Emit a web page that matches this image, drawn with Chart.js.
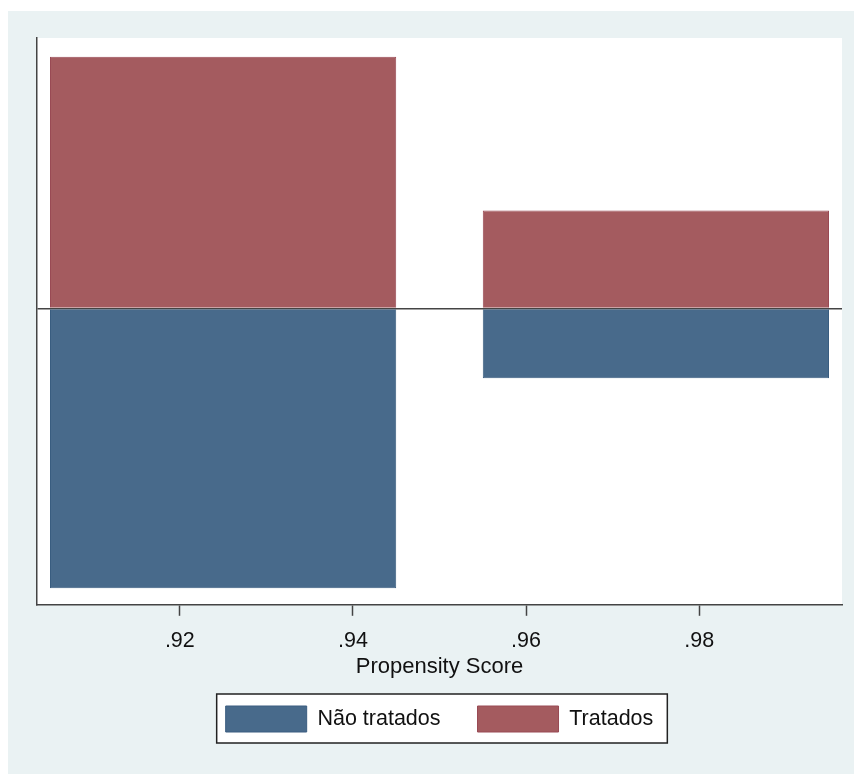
<!DOCTYPE html>
<html>

<head>
    <meta charset="utf-8">
    <title>Propensity Score</title>
    <script src="https://cdn.jsdelivr.net/npm/chart.js@4.4.1/dist/chart.umd.min.js"></script>
    <style>
    html,
    body {
        margin: 0;
        padding: 0;
        background: #fff;
    }

    #wrap {
        position: absolute;
        left: 8px;
        top: 11px;
        width: 846px;
        height: 763px;
        background: #eaf2f3;
    }
    </style>
</head>

<body>
    <div id="wrap"><canvas id="psChart"></canvas></div>
    <script>
    // bin centres (propensity score) and share of each group per bin
    var binCenters = [0.925, 0.975];
    var binWidth = 0.04;
    var naoTratados = [0.8, 0.2];
    var tratados = [0.72, 0.28];
    var xTicks = [0.92, 0.94, 0.96, 0.98];
    var xRange = [0.9035, 0.9965];
    var yRange = [-0.8476, 0.7735];

    var fontFam = "'Liberation Sans', Arial, sans-serif";
    var tickStep = xTicks[1] - xTicks[0];

    // white plot region + framed legend, like Stata
    var decor = {
        id: 'decor',
        beforeDraw: function(chart) {
            var a = chart.chartArea, ctx = chart.ctx;
            ctx.save();
            ctx.fillStyle = '#ffffff';
            ctx.fillRect(a.left, a.top, a.right - a.left, a.bottom - a.top);
            ctx.restore();
        },
        afterDraw: function(chart) {
            var boxes = chart.legend.legendHitBoxes;
            if (!boxes || !boxes.length) return;
            var l = Math.min.apply(null, boxes.map(b => b.left));
            var r = Math.max.apply(null, boxes.map(b => b.left + b.width));
            var t = Math.min.apply(null, boxes.map(b => b.top));
            var h = Math.max.apply(null, boxes.map(b => b.height));
            var bx = l - 9, by = t - 12, bw = r - l + 23, bh = h + 23;
            var ctx = chart.ctx;
            ctx.save();
            ctx.fillStyle = '#ffffff';
            ctx.globalCompositeOperation = 'destination-over';
            ctx.fillRect(bx, by, bw, bh);
            ctx.globalCompositeOperation = 'source-over';
            ctx.strokeStyle = '#222';
            ctx.lineWidth = 1.5;
            ctx.strokeRect(bx, by, bw, bh);
            ctx.restore();
        }
    };

    var options = {
        type: 'bar',
        data: {
            datasets: [{
                label: 'Não tratados',
                data: binCenters.map((x, i) => ({ x: x, y: -naoTratados[i] })),
                backgroundColor: '#486a8b',
                borderColor: '#3a5d80',
                borderWidth: 1,
                barPercentage: binWidth / tickStep,
                categoryPercentage: 1
            }, {
                label: 'Tratados',
                data: binCenters.map((x, i) => ({ x: x, y: tratados[i] })),
                backgroundColor: '#a45b5f',
                borderColor: '#994a54',
                borderWidth: 1,
                barPercentage: binWidth / tickStep,
                categoryPercentage: 1
            }]
        },
        options: {
            responsive: true,
            maintainAspectRatio: false,
            animation: false,
            layout: { padding: { left: 29, right: 12, top: 27, bottom: 32 } },
            scales: {
                x: {
                    type: 'linear',
                    stacked: true,
                    offset: false,
                    min: xRange[0],
                    max: xRange[1],
                    afterBuildTicks: function(axis) {
                        axis.ticks = xTicks.map(v => ({ value: v }));
                    },
                    border: { display: true, color: '#444', width: 1.5 },
                    grid: { offset: false, drawOnChartArea: false, drawTicks: true, tickLength: 11, tickColor: '#444', tickWidth: 1.5 },
                    ticks: {
                        color: '#111',
                        padding: 12,
                        maxRotation: 0,
                        font: { family: fontFam, size: 21.5 },
                        callback: v => v.toFixed(2).replace(/^0/, '')
                    },
                    title: {
                        display: true,
                        text: 'Propensity Score',
                        color: '#111',
                        padding: { top: -12, bottom: -11 },
                        font: { family: fontFam, size: 22 }
                    }
                },
                y: {
                    stacked: true,
                    min: yRange[0],
                    max: yRange[1],
                    afterBuildTicks: function(axis) {
                        axis.ticks = [{ value: 0 }];
                    },
                    border: { display: true, color: '#444', width: 1.5 },
                    grid: {
                        drawTicks: false,
                        color: '#444',
                        lineWidth: 1.5
                    },
                    ticks: { display: false }
                }
            },
            plugins: {
                tooltip: { enabled: false },
                legend: {
                    position: 'bottom',
                    labels: {
                        boxWidth: 81,
                        boxHeight: 26,
                        padding: 37,
                        color: '#111',
                        font: { family: fontFam, size: 21.5 }
                    }
                }
            }
        },
        plugins: [decor]
    };

    var ctx = document.getElementById('psChart').getContext('2d');
    window.psChart = new Chart(ctx, options);
    </script>
</body>

</html>
